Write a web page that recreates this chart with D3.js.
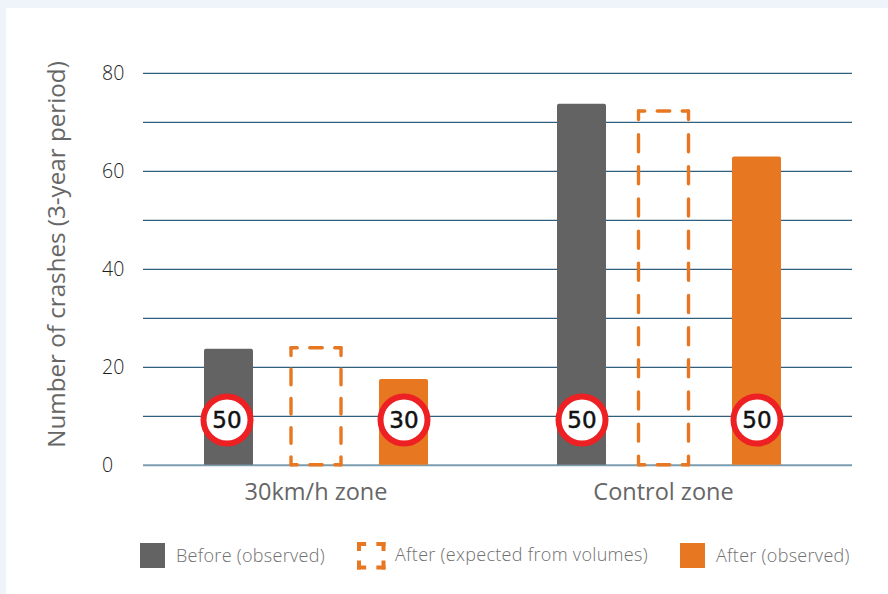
<!DOCTYPE html>
<html>
<head>
<meta charset="utf-8">
<script src="https://cdn.jsdelivr.net/npm/d3@7/dist/d3.min.js"></script>
<style>
  html, body { margin: 0; padding: 0; background: #fff; }
  svg { display: block; }
  text { font-family: "Open Sans", Lato, sans-serif; }
</style>
</head>
<body>
<svg id="chart" width="888" height="594"></svg>
<script>
// Crash counts over a 3-year period, by zone and observation
const zones = ["30km/h zone", "Control zone"];
const seriesNames = ["Before (observed)", "After (expected from volumes)", "After (observed)"];
const beforeObserved = [23.7, 73.7];
const afterExpected = [23.9, 72.2];
const afterObserved = [17.5, 62.9];
const beforeLimits = [50, 50];
const afterLimits = [30, 50];
const yTicks = [0, 10, 20, 30, 40, 50, 60, 70, 80];
const yLabelled = [0, 20, 40, 60, 80];

const GREY = "#636363", ORANGE = "#e87722", RED = "#ed2024";
const svg = d3.select("#chart");

// Pale page band along the top and left edges
svg.append("rect").attr("width", 888).attr("height", 594).attr("fill", "#eff4fb");
svg.append("rect").attr("x", 6).attr("y", 8).attr("width", 882).attr("height", 586).attr("fill", "#fff");

const y = d3.scaleLinear().domain([0, 80]).range([464.8, 72.8]);
const left = 143, right = 852;

// Group centres and the place of each series inside a group
const x0 = d3.scalePoint().domain(zones).range([316, 669]);
const x1 = d3.scalePoint().domain(seriesNames).range([-87.5, 87.5]);
const controlShift = -5.5; // the expected bar and label sit slightly left in the control group
const middleX = (z) => x0(z) + (z === zones[1] ? controlShift : 0);
const solidWidth = 49, dashedWidth = 51;

// Gridlines and value labels
const axis = d3.axisLeft(y)
  .tickValues(yTicks)
  .tickSize(-(right - left))
  .tickFormat(d => yLabelled.includes(d) ? d : "");
const axisG = svg.append("g").attr("transform", `translate(${left},0)`).call(axis);
axisG.select(".domain").remove();
axisG.selectAll(".tick line")
  .attr("stroke", d => d === 0 ? "#7b9db2" : "#2f5f7c")
  .attr("stroke-width", d => d === 0 ? 2 : 1.3);
axisG.selectAll(".tick text")
  .attr("text-anchor", "start")
  .attr("x", -41)
  .attr("dy", "0.36em")
  .attr("fill", "#1e1e1e")
  .style("font-family", "'Open Sans', sans-serif")
  .style("font-size", "19.5px")
  .style("font-weight", 300);

// Solid bars
const solid = [
  { name: seriesNames[0], values: beforeObserved, color: GREY },
  { name: seriesNames[2], values: afterObserved, color: ORANGE }
];
solid.forEach(s => {
  svg.append("g").selectAll("path").data(zones).join("path")
    .attr("fill", s.color)
    .attr("d", (z, i) => {
      const cx = x0(z) + x1(s.name), x = cx - solidWidth / 2, t = y(s.values[i]), b = y(0), r = 2;
      return `M${x},${b}V${t + r}Q${x},${t} ${x + r},${t}H${x + solidWidth - r}Q${x + solidWidth},${t} ${x + solidWidth},${t + r}V${b}Z`;
    });
});

// Draws a dashed box so that every corner carries an L-shaped piece of dash
function dashedSide(g, x1p, y1p, x2p, y2p, period, ratio, width, cap) {
  const len = Math.hypot(x2p - x1p, y2p - y1p);
  const n = Math.max(1, Math.round(len / period));
  const p = len / n, dash = p * ratio;
  g.append("line")
    .attr("x1", x1p).attr("y1", y1p).attr("x2", x2p).attr("y2", y2p)
    .attr("stroke", ORANGE).attr("stroke-width", width).attr("stroke-linecap", cap)
    .attr("stroke-dasharray", `${dash} ${p - dash}`)
    .attr("stroke-dashoffset", dash / 2);
}
function dashedBox(g, x, t, w, b, vPeriod, hPeriod, vRatio, hRatio, width, cap) {
  dashedSide(g, x, t, x + w, t, hPeriod, hRatio, width, cap);
  dashedSide(g, x, b, x + w, b, hPeriod, hRatio, width, cap);
  dashedSide(g, x, t, x, b, vPeriod, vRatio, width, cap);
  dashedSide(g, x + w, t, x + w, b, vPeriod, vRatio, width, cap);
}
const dashedG = svg.append("g");
zones.forEach((z, i) => {
  const sx = middleX(z) - dashedWidth / 2 + 0.5;
  dashedBox(dashedG, sx, y(afterExpected[i]), dashedWidth - 1, y(0), i === 0 ? 27.5 : 32, 22, 0.53, 0.5, 3.4, "round");
});

// Speed limit signs
const signCentre = 420;
function sign(cx, limit) {
  const g = svg.append("g").attr("transform", `translate(${cx},${signCentre})`);
  g.append("circle").attr("r", 23.5).attr("fill", "#fff").attr("stroke", RED).attr("stroke-width", 6);
  g.append("text").text(limit)
    .attr("text-anchor", "middle").attr("dy", "0.36em")
    .attr("fill", "#111")
    .style("font-family", "DejaVu Sans, sans-serif")
    .style("font-size", "23px")
    .style("stroke", "#111").style("stroke-width", 0.5);
}
zones.forEach((z, i) => {
  const nudge = i === 0 ? -1.5 : 0.5;
  sign(x0(z) + x1(seriesNames[0]) + nudge, beforeLimits[i]);
  sign(x0(z) + x1(seriesNames[2]) + 0.5, afterLimits[i]);
});

// Zone labels
svg.append("g").selectAll("text").data(zones).join("text")
  .attr("x", middleX)
  .attr("y", 500)
  .attr("text-anchor", "middle")
  .attr("fill", "#666")
  .style("font-size", "23.5px")
  .text(d => d);

// Axis title
svg.append("text")
  .attr("transform", "translate(65,254.5) rotate(-90)")
  .attr("text-anchor", "middle")
  .attr("fill", "#666")
  .style("font-size", "24.2px")
  .text("Number of crashes (3-year period)");

// Legend
const legendTextStyle = (sel) => sel.attr("fill", "#707070").style("font-size", "18px").style("font-weight", 300).style("letter-spacing", "0.3px");
svg.append("rect").attr("x", 140).attr("y", 543).attr("width", 25).attr("height", 25).attr("fill", GREY);
svg.append("text").attr("x", 176).attr("y", 562).text(seriesNames[0]).call(legendTextStyle);
dashedBox(svg.append("g"), 359, 544, 24.5, 567.5, 24, 24, 0.42, 0.42, 4, "square");
svg.append("text").attr("x", 395).attr("y", 561).text(seriesNames[1]).call(legendTextStyle);
svg.append("rect").attr("x", 680).attr("y", 543).attr("width", 25).attr("height", 25).attr("fill", ORANGE);
svg.append("text").attr("x", 716).attr("y", 562).text(seriesNames[2]).call(legendTextStyle);
</script>
</body>
</html>
